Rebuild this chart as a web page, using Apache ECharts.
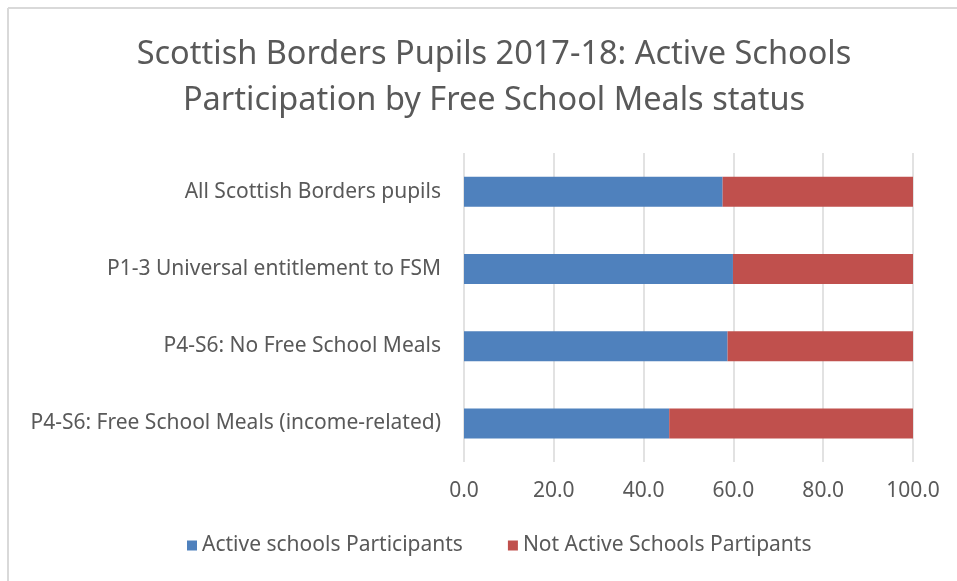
<!DOCTYPE html>
<html>
<head>
<meta charset="utf-8">
<script src="https://cdn.jsdelivr.net/npm/echarts@6/dist/echarts.min.js"></script>
<style>
  html, body { margin: 0; padding: 0; background: #fff; }
  #main { width: 957px; height: 581px; }
</style>
</head>
<body>
<div id="main"></div>
<script>
var categories = [
  'All Scottish Borders pupils',
  'P1-3 Universal entitlement to FSM',
  'P4-S6: No Free School Meals',
  'P4-S6: Free School Meals (income-related)'
];
var active = [57.6, 59.9, 58.7, 45.7];
var notActive = [42.4, 40.1, 41.3, 54.3];
var seriesNames = ['Active schools Participants', 'Not Active Schools Partipants'];
var xTicks = [0, 20, 40, 60, 80, 100];

var font = 'Noto Sans';
var txt = '#595959';

var chart = echarts.init(document.getElementById('main'));
var option = {
  backgroundColor: '#fff',
  animation: false,
  title: {
    text: 'Scottish Borders Pupils 2017-18: Active Schools\nParticipation by Free School Meals status',
    left: 489,
    textAlign: 'center',
    top: 27,
    textStyle: {
      fontFamily: font,
      fontWeight: 'normal',
      fontSize: 32.5,
      lineHeight: 46,
      color: txt
    }
  },
  graphic: [
    { type: 'line', shape: { x1: 8, y1: 8, x2: 957, y2: 8 }, style: { stroke: '#d9d9d9', lineWidth: 2 } },
    { type: 'line', shape: { x1: 8, y1: 8, x2: 8, y2: 581 }, style: { stroke: '#d9d9d9', lineWidth: 2 } }
  ],
  legend: {
    bottom: 20,
    left: 182,
    itemGap: 45,
    itemWidth: 10,
    itemHeight: 10,
    icon: 'rect',
    textStyle: { fontFamily: font, fontSize: 21, color: txt },
    data: seriesNames
  },
  grid: { left: 464, right: 44, top: 153, bottom: 119 },
  xAxis: {
    type: 'value',
    min: xTicks[0],
    max: xTicks[xTicks.length - 1],
    interval: 20,
    axisLine: { show: false },
    axisTick: { show: false },
    axisLabel: {
      fontFamily: font,
      fontSize: 21,
      color: txt,
      margin: 19,
      formatter: function (v) { return v.toFixed(1); }
    },
    splitLine: { lineStyle: { color: '#d9d9d9', width: 1.5 } }
  },
  yAxis: {
    type: 'category',
    inverse: true,
    data: categories,
    axisLine: { show: false },
    axisTick: { show: false },
    axisLabel: { fontFamily: font, fontSize: 21, color: txt, margin: 23 }
  },
  series: [
    {
      name: seriesNames[0],
      type: 'bar',
      stack: 'total',
      barWidth: 30,
      itemStyle: { color: '#4f81bd' },
      data: active
    },
    {
      name: seriesNames[1],
      type: 'bar',
      stack: 'total',
      barWidth: 30,
      itemStyle: { color: '#c0504d' },
      data: notActive
    }
  ]
};
chart.setOption(option);
</script>
</body>
</html>
